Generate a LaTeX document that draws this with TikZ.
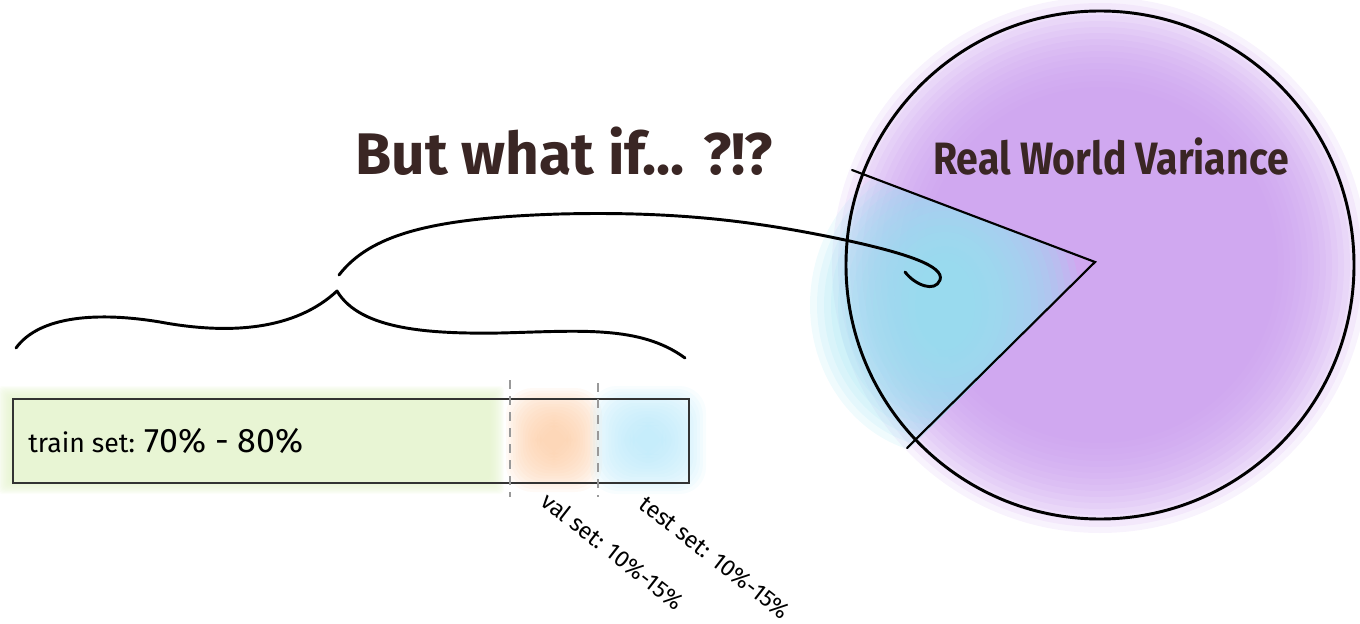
\documentclass[tikz,border=0pt]{standalone}
\usepackage{fontspec}
\setmainfont{Fira Sans}
\usetikzlibrary{calc}
\definecolor{ink}{HTML}{3A2624}
\definecolor{purp}{HTML}{C99CEE}
\definecolor{cyanf}{HTML}{98E2F2}
\definecolor{greenf}{HTML}{E4F3CC}
\definecolor{orangef}{HTML}{FDCDA6}
\definecolor{bluef}{HTML}{B8E8FA}
\newcommand{\glowrect}[7]{%
  \foreach \i [evaluate=\i as \s using #6*(1-\i/13)] in {0,...,13}{%
    \fill[#5, opacity=#7, rounded corners=3pt] ({#1-\s},{#2-\s}) rectangle ({#3+\s},{#4+\s});}}
\newcommand{\glowblob}[5]{%
  \foreach \i [evaluate=\i as \rx using #3*(1-\i/15)+12, evaluate=\i as \ry using #4*(1-\i/15)+12] in {0,...,14}{%
    \fill[#5, opacity=0.1, rounded corners=20pt] ({#1-\rx},{#2-\ry}) rectangle ({#1+\rx},{#2+\ry});}}
\tikzset{
  stroke/.style={line width=2.2pt, line cap=round, line join=round},
  thin stroke/.style={line width=1.6pt, line cap=round},
  sep line/.style={gray!80, line width=1pt, dash pattern=on 7pt off 5pt},
  big label/.style={text=ink, font=\bfseries\fontsize{44}{48}\selectfont, inner sep=0pt, anchor=base west},
  mid label/.style={text=ink, font=\bfseries\fontsize{34}{38}\selectfont, inner sep=0pt, anchor=base west, xscale=0.865},
  bar label/.style={text=black, font=\fontsize{20}{22}\selectfont, inner sep=0pt, anchor=base west},
  rot label/.style={text=black, font=\fontsize{17.5}{20}\selectfont, inner sep=0pt, anchor=north west, rotate=-38},
}
\begin{document}
\begin{tikzpicture}[x=0.75pt, y=-0.75pt]
\useasboundingbox (0,0) rectangle (1360,624);
% ---- circle fills ----
\foreach \i [evaluate=\i as \r using 268-6*\i] in {0,...,15}{
  \fill[purp, opacity=0.12] (1100,265) circle (\r);}
\begin{scope}
  \clip (1095,262) -- (640,90) -- (640,620) -- (740,620) -- cycle;
  \foreach \i [evaluate=\i as \rx using 135-7*\i, evaluate=\i as \ry using 150-7*\i] in {0,...,15}{
    \fill[cyanf, opacity=0.14] (945,305) ellipse [x radius=\rx, y radius=\ry];}
\end{scope}
% ---- bar fills ----
\glowrect{12}{400}{490}{480}{greenf}{14}{0.12}
\glowblob{554}{440}{36}{40}{orangef}
\glowblob{648}{440}{46}{42}{bluef}
% ---- circle & wedge ----
\node[draw=black, line width=2.2pt, circle, minimum size=381pt, inner sep=0pt] (world) at (1100,265) {};
\coordinate (tip) at (1095,262);
\coordinate (wa) at (852,170);
\coordinate (wb) at (907,448);
\draw[thin stroke] (wa) -- (tip) -- (wb);
\node[mid label] (rwv) at (933,175) {Real World Variance};
% ---- bar ----
\node[draw=black!80, line width=1.6pt, minimum width=507pt, minimum height=63pt, inner sep=0pt, anchor=north west] (bar) at (12,398) {};
\coordinate (d1a) at (510,380); \coordinate (d1b) at (510,497);
\coordinate (d2a) at (598,383); \coordinate (d2b) at (598,497);
\draw[sep line] (d1a) -- (d1b);
\draw[sep line] (d2a) -- (d2b);
\node[bar label] (train) at (28,452) {train set: {\fontsize{25.5}{27}\selectfont 70\% - 80\%}};
\node[rot label] (val) at (550,490) {val set: 10\%-15\%};
\node[rot label] (test) at (648,494) {test set: 10\%-15\%};
% ---- title ----
\node[big label] (but) at (355,175) {But what if... ?!?};
% ---- brace ----
\coordinate (bl) at (16,348);
\coordinate (cusp) at (337,291);
\coordinate (br) at (685,358);
\draw[stroke] (bl) .. controls (40,315) and (100,312) .. (160,322)
  .. controls (230,335) and (295,330) .. (cusp)
  .. controls (360,330) and (430,334) .. (500,333)
  .. controls (580,331) and (640,325) .. (br);
% ---- pointer curve ----
\coordinate (ps) at (339,275);
\coordinate (pe) at (905,272);
\draw[stroke] (ps) .. controls (370,235) and (430,218) .. (560,214)
  .. controls (680,211) and (760,222) .. (845,240)
  .. controls (905,253) and (945,266) .. (940,280)
  .. controls (935,293) and (915,285) .. (pe);
\end{tikzpicture}
\end{document}
